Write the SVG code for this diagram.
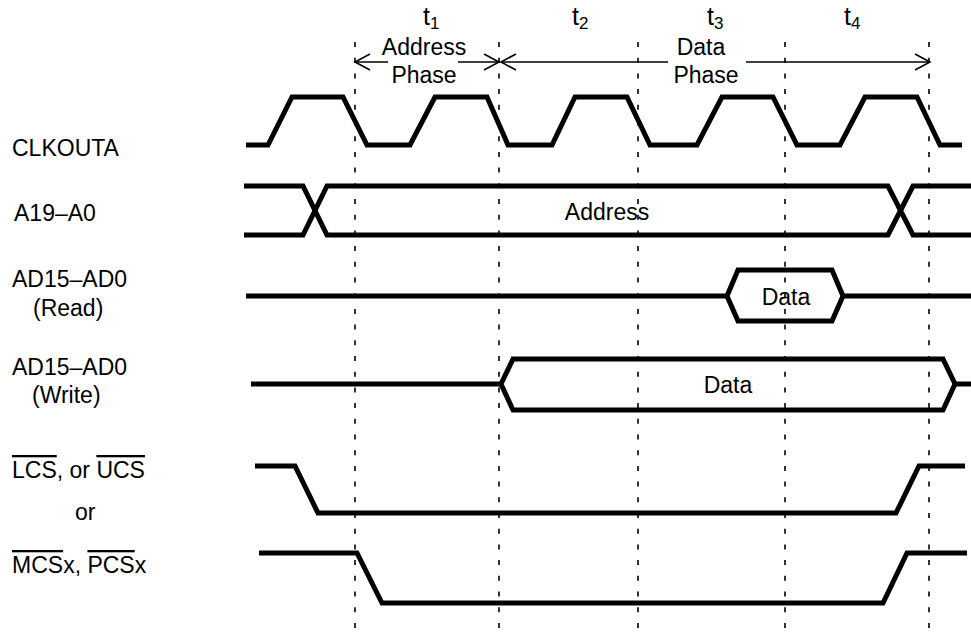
<svg xmlns="http://www.w3.org/2000/svg" width="971" height="636" viewBox="0 0 971 636">
<style>
text{font-family:"Liberation Sans",Arial,sans-serif;font-size:23px;fill:#000}
.sig{fill:none;stroke:#000;stroke-width:5;stroke-linejoin:miter;stroke-linecap:butt}
.grid{stroke:#000;stroke-width:1.6;stroke-dasharray:5 10.7;fill:none}
.arr{stroke:#000;stroke-width:1.6;fill:none}
.ov{text-decoration:overline}
.mid{text-anchor:middle}
.t{font-size:25px}
.sub{font-size:17px}
</style>
<rect width="971" height="636" fill="#fff"/>
<g id="gridlines">
<line class="grid" x1="355" y1="42" x2="355" y2="630"/>
<line class="grid" x1="499" y1="42" x2="499" y2="630"/>
<line class="grid" x1="638" y1="42" x2="638" y2="630"/>
<line class="grid" x1="785" y1="42" x2="785" y2="630"/>
<line class="grid" x1="929" y1="42" x2="929" y2="630"/>
</g>
<g id="time-labels">
<text class="t" x="423" y="25">t<tspan class="sub" dy="4">1</tspan></text>
<text class="t" x="572" y="25">t<tspan class="sub" dy="4">2</tspan></text>
<text class="t" x="707" y="25">t<tspan class="sub" dy="4">3</tspan></text>
<text class="t" x="844" y="25">t<tspan class="sub" dy="4">4</tspan></text>
</g>
<g id="connectors">
<g id="address-phase">
<line class="arr" x1="355" y1="62" x2="388" y2="62"/>
<polyline class="arr" points="370,54 355,62 370,70"/>
<line class="arr" x1="458" y1="62" x2="499" y2="62"/>
<polyline class="arr" points="484,54 499,62 484,70"/>
<text class="mid" x="424" y="55">Address</text>
<text class="mid" x="424" y="83">Phase</text>
</g>
<g id="data-phase">
<line class="arr" x1="501" y1="62" x2="668" y2="62"/>
<polyline class="arr" points="516,54 501,62 516,70"/>
<line class="arr" x1="746" y1="62" x2="930" y2="62"/>
<polyline class="arr" points="915,54 930,62 915,70"/>
<text class="mid" x="701" y="55">Data</text>
<text class="mid" x="706" y="83">Phase</text>
</g>
</g>
<g id="clkouta">
<text x="12" y="156">CLKOUTA</text>
<polyline class="sig" points="246,145 268,145 292,97 343,97 367,145 410,145 435,97 487,97 508,145 552,145 575,97 627,97 650,145 697,145 722,97 773,97 797,145 840,145 865,97 917,97 940,145 962,145"/>
</g>
<g id="a19-a0">
<text x="14" y="221">A19–A0</text>
<polyline class="sig" points="244,186 303,186 327,235 888,235 913,186 971,186"/>
<polyline class="sig" points="244,235 303,235 327,186 888,186 913,235 971,235"/>
<text class="mid" x="607" y="220">Address</text>
</g>
<g id="ad-read">
<text x="12" y="287">AD15–AD0</text>
<text x="33" y="316">(Read)</text>
<polyline class="sig" points="246,296 727,296"/>
<polygon class="sig" points="727,296 738,270 832,270 843,296 832,321 738,321"/>
<polyline class="sig" points="843,296 971,296"/>
<text class="mid" x="786" y="305">Data</text>
</g>
<g id="ad-write">
<text x="12" y="375">AD15–AD0</text>
<text x="32" y="403">(Write)</text>
<polyline class="sig" points="251,384 501,384"/>
<polygon class="sig" points="501,384 513,359 943,359 955,384 943,410 513,410"/>
<polyline class="sig" points="955,384 971,384"/>
<text class="mid" x="728" y="393">Data</text>
</g>
<g id="lcs-ucs">
<text x="12" y="478"><tspan class="ov">LCS</tspan>, or <tspan class="ov">UCS</tspan></text>
<polyline class="sig" points="255,466 295,466 318,513 896,513 919,466 965,466"/>
</g>
<g id="or-label">
<text x="75" y="520">or</text>
</g>
<g id="mcs-pcs">
<text x="12" y="573"><tspan class="ov">MCS</tspan>x, <tspan class="ov">PCS</tspan>x</text>
<polyline class="sig" points="259,553 357,553 382,603 883,603 907,553 967,553"/>
</g>
</svg>
